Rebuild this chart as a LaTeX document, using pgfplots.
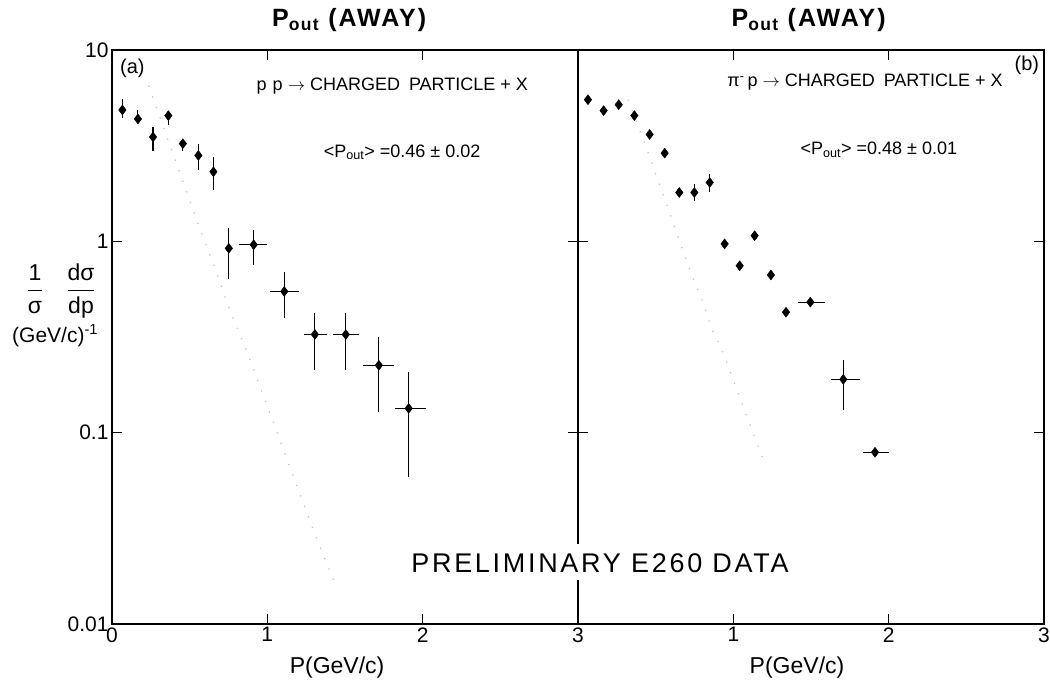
\documentclass[border=0pt]{standalone}
\usepackage{fontspec}
\setmainfont{Liberation Sans}
\usepackage{amsmath}
\usepackage{pgfplots}
\pgfplotsset{compat=1.18}
\pgfplotsset{every axis/.append style={
    scale only axis, width=466pt, height=574pt,
    ymode=log, ymin=0.01, ymax=10, xmin=0, xmax=3,
    separate axis lines,
    axis line style={line width=2.8pt, line cap=rect},
    major tick style={line width=1.5pt, black},
    major tick length=10pt,
    yminorticks=false, xminorticks=false,
    ytick={0.01,0.1,1,10},
    /pgf/number format/assume math mode=true,
    tick label style={font=\fontsize{21}{21}\selectfont},
    clip=false,
  }}
\begin{document}
\begin{tikzpicture}
\useasboundingbox (-112pt,-61pt) rectangle (938pt,624pt);
% ---------------- left panel (a)
\begin{axis}[at={(0pt,0pt)}, anchor=south west,
  xtick={0,1,2,3}, xticklabels={0,1,2,3},
  yticklabels={0.01,0.1,1,10}]
\addplot[gray!50, line width=1.2pt, dash pattern=on 1.2pt off 10pt] coordinates {(0.236,6.5) (0.294,4.8) (0.56,1.2) (0.653,0.76) (0.757,0.44) (0.861,0.274) (0.907,0.22) (0.954,0.173) (1.266,0.036) (1.31,0.029) (1.428,0.0168)};
\addplot[only marks, mark=diamond*, mark size=5pt, black,
    error bars/.cd, y dir=both, y explicit, x dir=both, x explicit,
    error mark=none, error bar style={line width=1.1pt, black}] coordinates {
 (0.067,4.86) += (0,0.70) -= (0,0.45)
 (0.167,4.36) += (0,0.50) -= (0,0.26)
 (0.264,3.51) += (0,0.43) -= (0,0.53)
 (0.363,4.54) += (0,0.18) -= (0,0.48)
 (0.456,3.24) += (0,0.17) -= (0,0.28)
 (0.556,2.81) += (0,0.43) -= (0,0.44)
 (0.653,2.31) += (0,0.44) -= (0,0.45)
 (0.752,0.92) += (0,0.25) -= (0,0.285)
 (0.912,0.96) += (0.085,0.18) -= (0.093,0.207)
 (1.109,0.547) += (0.095,0.142) -= (0.09,0.149)
 (1.306,0.326) += (0.08,0.098) -= (0.07,0.114)
 (1.505,0.326) += (0.085,0.098) -= (0.08,0.114)
 (1.718,0.225) += (0.10,0.091) -= (0.10,0.097)
 (1.910,0.134) += (0.11,0.073) -= (0.09,0.075)
};
\node[anchor=north west, font=\fontsize{20}{20}\selectfont] at (rel axis cs:0.01,0.99) {(a)};
\node[anchor=west, font=\fontsize{18}{18}\selectfont] at (rel axis cs:0.303,0.937) {p\,\,p $\rightarrow$ CHARGED\,\,\,PARTICLE + X};
\node[anchor=west, font=\fontsize{18}{18}\selectfont] at (rel axis cs:0.447,0.822) {<P\textsubscript{out}> =0.46 ± 0.02};
\node[font=\bfseries\fontsize{25}{25}\selectfont\addfontfeature{LetterSpace=8}] at (rel axis cs:0.509,1.052) {P\textsubscript{out} (AWAY)};
\node[font=\fontsize{23}{23}\selectfont] at (rel axis cs:0.483,-0.075) {P(GeV/c)};
\node[font=\fontsize{23}{28}\selectfont] at (rel axis cs:-0.109,0.580) {$\dfrac{\text{1}}{\text{σ}}\quad\dfrac{\text{dσ}}{\text{dp}}$};
\node[font=\fontsize{21}{21}\selectfont] at (rel axis cs:-0.122,0.502) {(GeV/c)\textsuperscript{-1}};
\end{axis}
% ---------------- right panel (b)
\begin{axis}[name=R, at={(466pt,0pt)}, anchor=south west,
  xtick={0,1,2,3}, xticklabels={,1,2,3},
  yticklabels={,,,}]
\addplot[gray!50, line width=1.2pt, dash pattern=on 1.2pt off 10pt] coordinates {(0.322,5.5) (0.433,3.2) (0.541,1.82) (0.605,1.30) (0.670,0.92) (0.734,0.66) (0.805,0.48) (0.863,0.345) (0.918,0.283) (1.021,0.169) (1.193,0.072)};
\addplot[only marks, mark=diamond*, mark size=5pt, black] coordinates {
 (0.064,5.50) (0.165,4.82) (0.262,5.18) (0.363,4.54) (0.461,3.62) (0.558,2.89)
 (0.652,1.80) (0.944,0.97) (1.041,0.745) (1.137,1.07) (1.242,0.667) (1.339,0.426)
};
\addplot[only marks, mark=diamond*, mark size=5pt, black,
    error bars/.cd, y dir=both, y explicit, x dir=both, x explicit,
    error mark=none, error bar style={line width=1.1pt, black}] coordinates {
 (0.749,1.80) += (0,0.19) -= (0,0.17)
 (0.848,2.03) += (0,0.21) -= (0,0.23)
 (1.496,0.481) += (0.092,0) -= (0.08,0)
 (1.708,0.19) += (0.105,0.051) -= (0.077,0.058)
 (1.912,0.079) += (0.09,0) -= (0.08,0)
};
\node[anchor=east, font=\fontsize{20}{20}\selectfont] at (rel axis cs:0.997,0.974) {(b)};
\node[anchor=west, font=\fontsize{18}{18}\selectfont] at (rel axis cs:0.313,0.944) {π\textsuperscript{-}\,p $\rightarrow$ CHARGED\,\,\,PARTICLE + X};
\node[anchor=west, font=\fontsize{18}{18}\selectfont] at (rel axis cs:0.47,0.826) {<P\textsubscript{out}> =0.48 ± 0.01};
\node[font=\bfseries\fontsize{25}{25}\selectfont\addfontfeature{LetterSpace=8}] at (rel axis cs:0.495,1.052) {P\textsubscript{out} (AWAY)};
\node[font=\fontsize{23}{23}\selectfont] at (rel axis cs:0.47,-0.075) {P(GeV/c)};
\end{axis}
\fill[white] ([shift={(-9pt,44pt)}]R.south west) rectangle ([shift={(9pt,80pt)}]R.south west);
\node[inner sep=3pt, font=\fontsize{27}{27}\selectfont\addfontfeature{LetterSpace=10}] at ([shift={(22pt,61pt)}]R.south west) {PRELIMINARY E260 DATA};
\end{tikzpicture}
\end{document}
